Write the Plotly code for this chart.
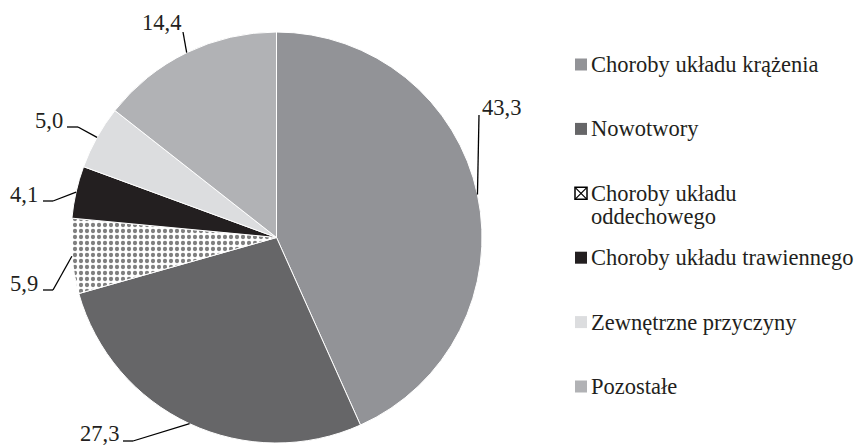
import math
import plotly.graph_objects as go

# ---- data ----
categories = [
    "Choroby układu krążenia",
    "Nowotwory",
    "Choroby układu oddechowego",
    "Choroby układu trawiennego",
    "Zewnętrzne przyczyny",
    "Pozostałe",
]
values = [43.3, 27.3, 5.9, 4.1, 5.0, 14.4]
legend_lines = [
    ["Choroby układu krążenia"],
    ["Nowotwory"],
    ["Choroby układu", "oddechowego"],
    ["Choroby układu trawiennego"],
    ["Zewnętrzne przyczyny"],
    ["Pozostałe"],
]

# ---- styles / layout ----
W, H = 855, 445
colors = ["#929397", "#666668", "#ffffff", "#231f20", "#dcdddf", "#b1b2b5"]
patterns = ["", "", ".", "", "", ""]
TEXT = "#231f20"
FONT = "Liberation Serif, Times New Roman, serif"
FS = 22.5

CX, CY, R = 276.5, 237.5, 205.5  # pie geometry in pixels (y down)

# label text anchor (left x, middle y) and leader-line elbow points
label_pos = [(480, 108), (78, 433), (8, 283), (8, 195), (33, 121), (140, 23)]
elbow_pts = [[(479, 115)], [(123, 441), (133, 441)], [(43, 290), (53, 290)],
             [(43, 201), (53, 201)], [(67, 127), (78, 127)], [(183, 32)]]

legend_sq_x = 581
legend_text_x = 589
legend_y0 = 64.5
legend_step = 64.4
line_h = 23
sq = 12


def px(x):
    return x / W


def py(y):
    return 1 - y / H


fig = go.Figure()
fig.add_trace(go.Pie(
    labels=categories,
    values=values,
    sort=False,
    direction="clockwise",
    rotation=0,
    textinfo="none",
    hoverinfo="label+value",
    showlegend=False,
    marker=dict(
        colors=colors,
        line=dict(color="#ffffff", width=1),
        pattern=dict(shape=patterns, fgcolor="#000000", size=6, solidity=0.4,
                     fillmode="overlay"),
    ),
    domain=dict(x=[px(CX - R), px(CX + R)], y=[py(CY + R), py(CY - R)]),
))

annotations = []
shapes = []
total = sum(values)
cum = 0.0
for i, v in enumerate(values):
    theta = 2 * math.pi * (cum + v / 2) / total
    cum += v
    ex = CX + R * math.sin(theta)
    ey = CY - R * math.cos(theta)
    pts = elbow_pts[i] + [(ex, ey)]
    for (x0, y0), (x1, y1) in zip(pts[:-1], pts[1:]):
        shapes.append(dict(type="line", xref="paper", yref="paper",
                           x0=px(x0), y0=py(y0), x1=px(x1), y1=py(y1),
                           line=dict(color="#000000", width=1.3)))
    lx, ly = label_pos[i]
    annotations.append(dict(
        text=f"{v:.1f}".replace(".", ","), xref="paper", yref="paper",
        x=px(lx), y=py(ly), xanchor="left", yanchor="middle", showarrow=False,
        font=dict(family=FONT, size=FS, color=TEXT),
    ))

# legend (manual)
for i, lines in enumerate(legend_lines):
    yc = legend_y0 + i * legend_step
    x0, x1 = legend_sq_x - sq / 2, legend_sq_x + sq / 2
    y0, y1 = yc - sq / 2, yc + sq / 2
    if patterns[i]:
        shapes.append(dict(type="rect", xref="paper", yref="paper",
                           x0=px(x0), x1=px(x1), y0=py(y1), y1=py(y0),
                           fillcolor="#ffffff", line=dict(color="#000000", width=1.5)))
        shapes.append(dict(type="line", xref="paper", yref="paper",
                           x0=px(x0), x1=px(x1), y0=py(y1), y1=py(y0),
                           line=dict(color="#000000", width=1.2)))
        shapes.append(dict(type="line", xref="paper", yref="paper",
                           x0=px(x0), x1=px(x1), y0=py(y0), y1=py(y1),
                           line=dict(color="#000000", width=1.2)))
    else:
        shapes.append(dict(type="rect", xref="paper", yref="paper",
                           x0=px(x0), x1=px(x1), y0=py(y1), y1=py(y0),
                           fillcolor=colors[i], line=dict(width=0)))
    for j, t in enumerate(lines):
        annotations.append(dict(
            text=t, xref="paper", yref="paper",
            x=px(legend_text_x), y=py(yc + j * line_h),
            xanchor="left", yanchor="middle", showarrow=False,
            font=dict(family=FONT, size=FS, color=TEXT),
        ))

fig.update_layout(
    width=W, height=H,
    margin=dict(l=0, r=0, t=0, b=0),
    paper_bgcolor="#ffffff",
    plot_bgcolor="#ffffff",
    annotations=annotations,
    shapes=shapes,
)

fig.write_html(
    "out.html",
    config={"displayModeBar": False},
    post_script="document.body.style.margin='0';document.body.style.overflow='hidden';",
)
